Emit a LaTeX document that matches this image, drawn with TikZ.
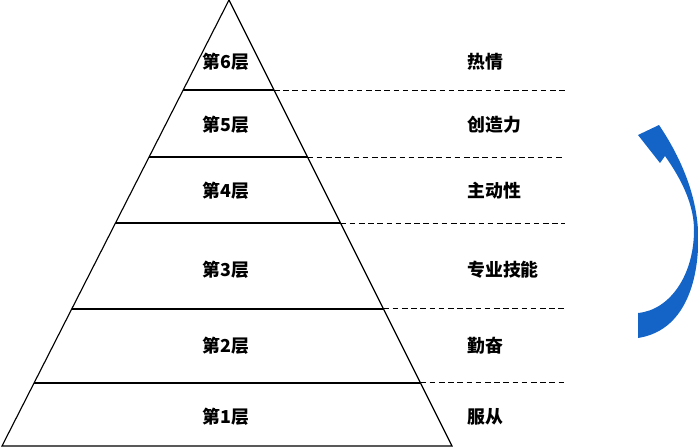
\documentclass[tikz,border=0pt]{standalone}
\usepackage{fontspec}
\newfontfamily\cjk{Noto Sans CJK SC}
\usetikzlibrary{calc}
\definecolor{arrowblue}{RGB}{20,100,200}
\tikzset{
  edge/.style={line width=0.8pt, draw=black, line join=miter},
  guide/.style={line width=0.7pt, draw=black, dash pattern=on 0.14cm off 0.09cm},
  layerlabel/.style={font=\cjk\bfseries\fontsize{12.7}{15}\selectfont, inner sep=0pt},
  traitlabel/.style={font=\cjk\bfseries\fontsize{12.7}{15}\selectfont, inner sep=0pt, anchor=west},
  arrowfill/.style={fill=arrowblue, draw=none},
}

\begin{document}
\begin{tikzpicture}[x=0.025cm, y=-0.025cm]
\useasboundingbox (0,0) rectangle (698,447);
\coordinate (apex) at (229,0);
\coordinate (bl) at (2,446);
\coordinate (br) at (452,446);
\coordinate (dashend) at (565,0);
\draw[edge] (apex) -- (bl) -- (br) -- cycle;
% layer borders, dashed guides to the right
\foreach \t/\n in {0.2018/6, 0.3520/5, 0.5/4, 0.6928/3, 0.8587/2} {
  \coordinate (l\n) at ($(apex)!\t!(bl)$);
  \coordinate (r\n) at ($(apex)!\t!(br)$);
  \draw[edge] (l\n) -- (r\n);
  \draw[guide] (r\n) -- (r\n -| dashend);
}
\node[layerlabel] (n6) at (226,62) {第6层};
\node[layerlabel] (n5) at (226,125) {第5层};
\node[layerlabel] (n4) at (226,191) {第4层};
\node[layerlabel] (n3) at (226,270) {第3层};
\node[layerlabel] (n2) at (226,346) {第2层};
\node[layerlabel] (n1) at (226,417) {第1层};
\node[traitlabel] (t6) at (467,62) {热情};
\node[traitlabel] (t5) at (467,125) {创造力};
\node[traitlabel] (t4) at (467,191) {主动性};
\node[traitlabel] (t3) at (467,270) {专业技能};
\node[traitlabel] (t2) at (467,346) {勤奋};
\node[traitlabel] (t1) at (467,417) {服从};
% curved arrow
\fill[arrowfill] (638,338) .. controls (690,330) and (700,270) .. (698,230)
  .. controls (696,195) and (682,160) .. (661,128) -- (659,125) -- (638,135)
  -- (660,163) -- (665,156)
  .. controls (682,180) and (694,205) .. (694,230)
  .. controls (694,275) and (670,310) .. (638,313) -- cycle;
\end{tikzpicture}
\end{document}
